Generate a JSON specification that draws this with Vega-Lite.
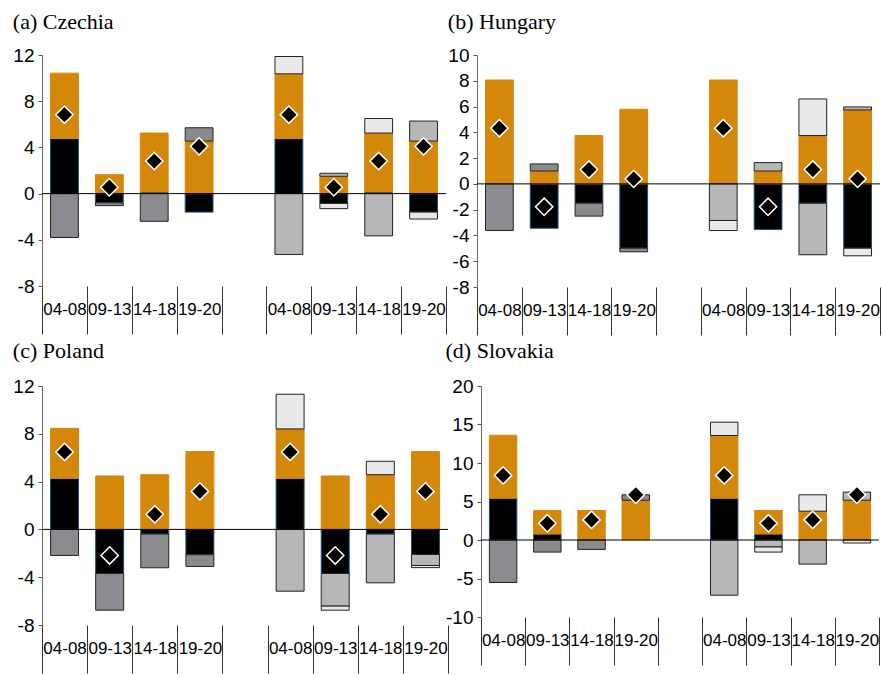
{
  "$schema": "https://vega.github.io/schema/vega-lite/v6.json",
  "padding": {"left": 12, "top": 11, "right": 0, "bottom": 0},
  "background": "white",
  "datasets": {
    "bars": [
      {"p": "a", "pos": "04-08|1", "c": "c1", "v": 4.76},
      {"p": "a", "pos": "04-08|1", "c": "c2", "v": 5.67},
      {"p": "a", "pos": "04-08|1", "c": "c3", "v": -3.8},
      {"p": "a", "pos": "09-13|1", "c": "c1", "v": -0.8},
      {"p": "a", "pos": "09-13|1", "c": "c2", "v": 1.64},
      {"p": "a", "pos": "09-13|1", "c": "c3", "v": -0.24},
      {"p": "a", "pos": "14-18|1", "c": "c1", "v": 0.14},
      {"p": "a", "pos": "14-18|1", "c": "c2", "v": 5.1},
      {"p": "a", "pos": "14-18|1", "c": "c3", "v": -2.4},
      {"p": "a", "pos": "19-20|1", "c": "c1", "v": -1.6},
      {"p": "a", "pos": "19-20|1", "c": "c2", "v": 4.55},
      {"p": "a", "pos": "19-20|1", "c": "c3", "v": 1.15},
      {"p": "a", "pos": "04-08|2", "c": "c1", "v": 4.76},
      {"p": "a", "pos": "04-08|2", "c": "c2", "v": 5.61},
      {"p": "a", "pos": "04-08|2", "c": "c5", "v": 1.5},
      {"p": "a", "pos": "04-08|2", "c": "c4", "v": -5.27},
      {"p": "a", "pos": "09-13|2", "c": "c1", "v": -0.85},
      {"p": "a", "pos": "09-13|2", "c": "c2", "v": 1.5},
      {"p": "a", "pos": "09-13|2", "c": "c4", "v": 0.26},
      {"p": "a", "pos": "09-13|2", "c": "c5", "v": -0.45},
      {"p": "a", "pos": "14-18|2", "c": "c1", "v": 0.14},
      {"p": "a", "pos": "14-18|2", "c": "c2", "v": 5.1},
      {"p": "a", "pos": "14-18|2", "c": "c5", "v": 1.26},
      {"p": "a", "pos": "14-18|2", "c": "c4", "v": -3.66},
      {"p": "a", "pos": "19-20|2", "c": "c1", "v": -1.6},
      {"p": "a", "pos": "19-20|2", "c": "c2", "v": 4.55},
      {"p": "a", "pos": "19-20|2", "c": "c4", "v": 1.73},
      {"p": "a", "pos": "19-20|2", "c": "c5", "v": -0.6},

      {"p": "b", "pos": "04-08|1", "c": "c2", "v": 8.06},
      {"p": "b", "pos": "04-08|1", "c": "c3", "v": -3.62},
      {"p": "b", "pos": "09-13|1", "c": "c1", "v": -3.44},
      {"p": "b", "pos": "09-13|1", "c": "c2", "v": 1.0},
      {"p": "b", "pos": "09-13|1", "c": "c3", "v": 0.55},
      {"p": "b", "pos": "14-18|1", "c": "c1", "v": -1.5},
      {"p": "b", "pos": "14-18|1", "c": "c2", "v": 3.75},
      {"p": "b", "pos": "14-18|1", "c": "c3", "v": -1.0},
      {"p": "b", "pos": "19-20|1", "c": "c1", "v": -4.99},
      {"p": "b", "pos": "19-20|1", "c": "c2", "v": 5.79},
      {"p": "b", "pos": "19-20|1", "c": "c3", "v": -0.28},
      {"p": "b", "pos": "04-08|2", "c": "c2", "v": 8.06},
      {"p": "b", "pos": "04-08|2", "c": "c4", "v": -2.84},
      {"p": "b", "pos": "04-08|2", "c": "c5", "v": -0.78},
      {"p": "b", "pos": "09-13|2", "c": "c1", "v": -3.54},
      {"p": "b", "pos": "09-13|2", "c": "c2", "v": 1.0},
      {"p": "b", "pos": "09-13|2", "c": "c4", "v": 0.65},
      {"p": "b", "pos": "14-18|2", "c": "c1", "v": -1.5},
      {"p": "b", "pos": "14-18|2", "c": "c2", "v": 3.75},
      {"p": "b", "pos": "14-18|2", "c": "c5", "v": 2.84},
      {"p": "b", "pos": "14-18|2", "c": "c4", "v": -4.0},
      {"p": "b", "pos": "19-20|2", "c": "c1", "v": -4.99},
      {"p": "b", "pos": "19-20|2", "c": "c2", "v": 5.74},
      {"p": "b", "pos": "19-20|2", "c": "c4", "v": 0.23},
      {"p": "b", "pos": "19-20|2", "c": "c5", "v": -0.59},

      {"p": "c", "pos": "04-08|1", "c": "c1", "v": 4.27},
      {"p": "c", "pos": "04-08|1", "c": "c2", "v": 4.19},
      {"p": "c", "pos": "04-08|1", "c": "c3", "v": -2.18},
      {"p": "c", "pos": "09-13|1", "c": "c1", "v": -3.69},
      {"p": "c", "pos": "09-13|1", "c": "c2", "v": 4.47},
      {"p": "c", "pos": "09-13|1", "c": "c3", "v": -3.07},
      {"p": "c", "pos": "14-18|1", "c": "c1", "v": -0.39},
      {"p": "c", "pos": "14-18|1", "c": "c2", "v": 4.58},
      {"p": "c", "pos": "14-18|1", "c": "c3", "v": -2.82},
      {"p": "c", "pos": "19-20|1", "c": "c1", "v": -2.12},
      {"p": "c", "pos": "19-20|1", "c": "c2", "v": 6.51},
      {"p": "c", "pos": "19-20|1", "c": "c3", "v": -0.98},
      {"p": "c", "pos": "04-08|2", "c": "c1", "v": 4.27},
      {"p": "c", "pos": "04-08|2", "c": "c2", "v": 4.14},
      {"p": "c", "pos": "04-08|2", "c": "c5", "v": 2.9},
      {"p": "c", "pos": "04-08|2", "c": "c4", "v": -5.17},
      {"p": "c", "pos": "09-13|2", "c": "c1", "v": -3.69},
      {"p": "c", "pos": "09-13|2", "c": "c2", "v": 4.47},
      {"p": "c", "pos": "09-13|2", "c": "c4", "v": -2.73},
      {"p": "c", "pos": "09-13|2", "c": "c5", "v": -0.34},
      {"p": "c", "pos": "14-18|2", "c": "c1", "v": -0.39},
      {"p": "c", "pos": "14-18|2", "c": "c2", "v": 4.58},
      {"p": "c", "pos": "14-18|2", "c": "c5", "v": 1.12},
      {"p": "c", "pos": "14-18|2", "c": "c4", "v": -4.08},
      {"p": "c", "pos": "19-20|2", "c": "c1", "v": -2.1},
      {"p": "c", "pos": "19-20|2", "c": "c2", "v": 6.51},
      {"p": "c", "pos": "19-20|2", "c": "c4", "v": -0.92},
      {"p": "c", "pos": "19-20|2", "c": "c5", "v": -0.18},

      {"p": "d", "pos": "04-08|1", "c": "c1", "v": 5.43},
      {"p": "d", "pos": "04-08|1", "c": "c2", "v": 8.17},
      {"p": "d", "pos": "04-08|1", "c": "c3", "v": -5.52},
      {"p": "d", "pos": "09-13|1", "c": "c1", "v": 0.78},
      {"p": "d", "pos": "09-13|1", "c": "c2", "v": 3.05},
      {"p": "d", "pos": "09-13|1", "c": "c3", "v": -1.57},
      {"p": "d", "pos": "14-18|1", "c": "c2", "v": 3.83},
      {"p": "d", "pos": "14-18|1", "c": "c3", "v": -1.22},
      {"p": "d", "pos": "19-20|1", "c": "c2", "v": 5.17},
      {"p": "d", "pos": "19-20|1", "c": "c3", "v": 0.7},
      {"p": "d", "pos": "04-08|2", "c": "c1", "v": 5.43},
      {"p": "d", "pos": "04-08|2", "c": "c2", "v": 8.14},
      {"p": "d", "pos": "04-08|2", "c": "c5", "v": 1.73},
      {"p": "d", "pos": "04-08|2", "c": "c4", "v": -7.17},
      {"p": "d", "pos": "09-13|2", "c": "c1", "v": 0.78},
      {"p": "d", "pos": "09-13|2", "c": "c2", "v": 3.05},
      {"p": "d", "pos": "09-13|2", "c": "c4", "v": -0.91},
      {"p": "d", "pos": "09-13|2", "c": "c5", "v": -0.66},
      {"p": "d", "pos": "14-18|2", "c": "c2", "v": 3.74},
      {"p": "d", "pos": "14-18|2", "c": "c5", "v": 2.13},
      {"p": "d", "pos": "14-18|2", "c": "c4", "v": -3.13},
      {"p": "d", "pos": "19-20|2", "c": "c2", "v": 5.17},
      {"p": "d", "pos": "19-20|2", "c": "c4", "v": 1.05},
      {"p": "d", "pos": "19-20|2", "c": "c5", "v": -0.39}
    ],
    "totals": [
      {"p": "a", "pos": "04-08|1", "t": 6.83}, {"p": "a", "pos": "09-13|1", "t": 0.55}, {"p": "a", "pos": "14-18|1", "t": 2.82}, {"p": "a", "pos": "19-20|1", "t": 4.09},
      {"p": "a", "pos": "04-08|2", "t": 6.83}, {"p": "a", "pos": "09-13|2", "t": 0.55}, {"p": "a", "pos": "14-18|2", "t": 2.82}, {"p": "a", "pos": "19-20|2", "t": 4.09},
      {"p": "b", "pos": "04-08|1", "t": 4.32}, {"p": "b", "pos": "09-13|1", "t": -1.78}, {"p": "b", "pos": "14-18|1", "t": 1.11}, {"p": "b", "pos": "19-20|1", "t": 0.39},
      {"p": "b", "pos": "04-08|2", "t": 4.32}, {"p": "b", "pos": "09-13|2", "t": -1.78}, {"p": "b", "pos": "14-18|2", "t": 1.11}, {"p": "b", "pos": "19-20|2", "t": 0.39},
      {"p": "c", "pos": "04-08|1", "t": 6.48}, {"p": "c", "pos": "09-13|1", "t": -2.18}, {"p": "c", "pos": "14-18|1", "t": 1.26}, {"p": "c", "pos": "19-20|1", "t": 3.18},
      {"p": "c", "pos": "04-08|2", "t": 6.48}, {"p": "c", "pos": "09-13|2", "t": -2.18}, {"p": "c", "pos": "14-18|2", "t": 1.26}, {"p": "c", "pos": "19-20|2", "t": 3.18},
      {"p": "d", "pos": "04-08|1", "t": 8.39}, {"p": "d", "pos": "09-13|1", "t": 2.17}, {"p": "d", "pos": "14-18|1", "t": 2.61}, {"p": "d", "pos": "19-20|1", "t": 5.87},
      {"p": "d", "pos": "04-08|2", "t": 8.39}, {"p": "d", "pos": "09-13|2", "t": 2.17}, {"p": "d", "pos": "14-18|2", "t": 2.61}, {"p": "d", "pos": "19-20|2", "t": 5.87}
    ]
  },
  "vconcat": [
    {
      "spacing": 0,
      "hconcat": [
        {
          "width": 404, "height": 231,
          "title": {"text": "(a) Czechia", "offset": 12},
          "layer": [
            {"data": {"name": "bars"}, "transform": [{"filter": "datum.p === 'a'"}],
             "mark": {"type": "bar", "width": {"band": 0.62}, "strokeWidth": 1},
             "encoding": {
               "x": {"field": "pos", "type": "nominal", "scale": {"domain": ["04-08|1","09-13|1","14-18|1","19-20|1","gap","04-08|2","09-13|2","14-18|2","19-20|2"], "paddingInner": 0, "paddingOuter": 0}},
               "y": {"field": "v", "type": "quantitative", "stack": "zero", "scale": {"domain": [-8, 12], "nice": false}, "axis": {"values": [-8, -4, 0, 4, 8, 12], "labelOverlap": false, "labelSeparation": -20}},
               "color": {"field": "c", "type": "nominal", "scale": {"domain": ["c1","c2","c3","c4","c5"], "range": ["#000000","#D4880A","#8B8B8F","#B7B7BA","#E9E9EB"]}, "legend": null},
               "stroke": {"field": "c", "type": "nominal", "scale": {"domain": ["c1","c2","c3","c4","c5"], "range": ["#1F4E79","#D4880A","#222222","#222222","#222222"]}, "legend": null},
               "order": {"field": "c", "sort": "ascending"}
             }},
            {"data": {"values": [{}]}, "mark": {"type": "rule", "color": "#000000", "strokeWidth": 1}, "encoding": {"y": {"datum": 0, "type": "quantitative", "axis": {"values": [-8, -4, 0, 4, 8, 12], "labelOverlap": false, "labelSeparation": -20}}}},
            {"data": {"name": "totals"}, "transform": [{"filter": "datum.p === 'a'"}],
             "mark": {"type": "point", "shape": "diamond", "filled": true, "size": 300, "fill": "#000000", "stroke": "#FFFFFF", "strokeWidth": 1.5, "opacity": 1},
             "encoding": {"x": {"field": "pos", "type": "nominal"}, "y": {"field": "t", "type": "quantitative", "axis": {"values": [-8, -4, 0, 4, 8, 12], "labelOverlap": false, "labelSeparation": -20}}}}
          ]
        },
        {
          "width": 403, "height": 232,
          "title": {"text": "(b) Hungary", "offset": 12},
          "layer": [
            {"data": {"name": "bars"}, "transform": [{"filter": "datum.p === 'b'"}],
             "mark": {"type": "bar", "width": {"band": 0.62}, "strokeWidth": 1},
             "encoding": {
               "x": {"field": "pos", "type": "nominal", "scale": {"domain": ["04-08|1","09-13|1","14-18|1","19-20|1","gap","04-08|2","09-13|2","14-18|2","19-20|2"], "paddingInner": 0, "paddingOuter": 0}},
               "y": {"field": "v", "type": "quantitative", "stack": "zero", "scale": {"domain": [-8, 10], "nice": false}, "axis": {"values": [-8, -6, -4, -2, 0, 2, 4, 6, 8, 10], "labelOverlap": false, "labelSeparation": -20}},
               "color": {"field": "c", "type": "nominal", "scale": {"domain": ["c1","c2","c3","c4","c5"], "range": ["#000000","#D4880A","#8B8B8F","#B7B7BA","#E9E9EB"]}, "legend": null},
               "stroke": {"field": "c", "type": "nominal", "scale": {"domain": ["c1","c2","c3","c4","c5"], "range": ["#1F4E79","#D4880A","#222222","#222222","#222222"]}, "legend": null},
               "order": {"field": "c", "sort": "ascending"}
             }},
            {"data": {"values": [{}]}, "mark": {"type": "rule", "color": "#000000", "strokeWidth": 1}, "encoding": {"y": {"datum": 0, "type": "quantitative", "axis": {"values": [-8, -6, -4, -2, 0, 2, 4, 6, 8, 10], "labelOverlap": false, "labelSeparation": -20}}}},
            {"data": {"name": "totals"}, "transform": [{"filter": "datum.p === 'b'"}],
             "mark": {"type": "point", "shape": "diamond", "filled": true, "size": 300, "fill": "#000000", "stroke": "#FFFFFF", "strokeWidth": 1.5, "opacity": 1},
             "encoding": {"x": {"field": "pos", "type": "nominal"}, "y": {"field": "t", "type": "quantitative", "axis": {"values": [-8, -6, -4, -2, 0, 2, 4, 6, 8, 10], "labelOverlap": false, "labelSeparation": -20}}}}
          ]
        }
      ]
    },
    {
      "spacing": -4,
      "hconcat": [
        {
          "width": 406, "height": 239,
          "title": {"text": "(c) Poland", "offset": 14},
          "layer": [
            {"data": {"name": "bars"}, "transform": [{"filter": "datum.p === 'c'"}],
             "mark": {"type": "bar", "width": {"band": 0.62}, "strokeWidth": 1},
             "encoding": {
               "x": {"field": "pos", "type": "nominal", "scale": {"domain": ["04-08|1","09-13|1","14-18|1","19-20|1","gap","04-08|2","09-13|2","14-18|2","19-20|2"], "paddingInner": 0, "paddingOuter": 0}},
               "y": {"field": "v", "type": "quantitative", "stack": "zero", "scale": {"domain": [-8, 12], "nice": false}, "axis": {"values": [-8, -4, 0, 4, 8, 12], "labelOverlap": false, "labelSeparation": -20}},
               "color": {"field": "c", "type": "nominal", "scale": {"domain": ["c1","c2","c3","c4","c5"], "range": ["#000000","#D4880A","#8B8B8F","#B7B7BA","#E9E9EB"]}, "legend": null},
               "stroke": {"field": "c", "type": "nominal", "scale": {"domain": ["c1","c2","c3","c4","c5"], "range": ["#1F4E79","#D4880A","#222222","#222222","#222222"]}, "legend": null},
               "order": {"field": "c", "sort": "ascending"}
             }},
            {"data": {"values": [{}]}, "mark": {"type": "rule", "color": "#000000", "strokeWidth": 1}, "encoding": {"y": {"datum": 0, "type": "quantitative", "axis": {"values": [-8, -4, 0, 4, 8, 12], "labelOverlap": false, "labelSeparation": -20}}}},
            {"data": {"name": "totals"}, "transform": [{"filter": "datum.p === 'c'"}],
             "mark": {"type": "point", "shape": "diamond", "filled": true, "size": 300, "fill": "#000000", "stroke": "#FFFFFF", "strokeWidth": 1.5, "opacity": 1},
             "encoding": {"x": {"field": "pos", "type": "nominal"}, "y": {"field": "t", "type": "quantitative", "axis": {"values": [-8, -4, 0, 4, 8, 12], "labelOverlap": false, "labelSeparation": -20}}}}
          ]
        },
        {
          "width": 398, "height": 231,
          "title": {"text": "(d) Slovakia", "offset": 14},
          "layer": [
            {"data": {"name": "bars"}, "transform": [{"filter": "datum.p === 'd'"}],
             "mark": {"type": "bar", "width": {"band": 0.62}, "strokeWidth": 1},
             "encoding": {
               "x": {"field": "pos", "type": "nominal", "scale": {"domain": ["04-08|1","09-13|1","14-18|1","19-20|1","gap","04-08|2","09-13|2","14-18|2","19-20|2"], "paddingInner": 0, "paddingOuter": 0}},
               "y": {"field": "v", "type": "quantitative", "stack": "zero", "scale": {"domain": [-10, 20], "nice": false}, "axis": {"values": [-10, -5, 0, 5, 10, 15, 20], "labelOverlap": false, "labelSeparation": -20}},
               "color": {"field": "c", "type": "nominal", "scale": {"domain": ["c1","c2","c3","c4","c5"], "range": ["#000000","#D4880A","#8B8B8F","#B7B7BA","#E9E9EB"]}, "legend": null},
               "stroke": {"field": "c", "type": "nominal", "scale": {"domain": ["c1","c2","c3","c4","c5"], "range": ["#1F4E79","#D4880A","#222222","#222222","#222222"]}, "legend": null},
               "order": {"field": "c", "sort": "ascending"}
             }},
            {"data": {"values": [{}]}, "mark": {"type": "rule", "color": "#000000", "strokeWidth": 1}, "encoding": {"y": {"datum": 0, "type": "quantitative", "axis": {"values": [-10, -5, 0, 5, 10, 15, 20], "labelOverlap": false, "labelSeparation": -20}}}},
            {"data": {"name": "totals"}, "transform": [{"filter": "datum.p === 'd'"}],
             "mark": {"type": "point", "shape": "diamond", "filled": true, "size": 300, "fill": "#000000", "stroke": "#FFFFFF", "strokeWidth": 1.5, "opacity": 1},
             "encoding": {"x": {"field": "pos", "type": "nominal"}, "y": {"field": "t", "type": "quantitative", "axis": {"values": [-10, -5, 0, 5, 10, 15, 20], "labelOverlap": false, "labelSeparation": -20}}}}
          ]
        }
      ]
    }
  ],
  "spacing": 4,
  "config": {
    "view": {"stroke": null},
    "font": "Liberation Sans",
    "title": {"font": "Liberation Serif", "fontSize": 22, "fontWeight": "normal", "anchor": "start", "color": "#000000"},
    "axisX": {"title": null, "domain": false, "tickBand": "extent", "tickSize": 48, "tickColor": "#333333", "tickWidth": 1, "labelPadding": -33, "labelFontSize": 17, "labelFont": "Liberation Sans", "labelColor": "#000000", "labelAngle": 0, "labelOverlap": false, "labelBound": false, "labelFlush": false, "labelExpr": "isString(datum.value) && datum.value !== 'gap' ? substring(datum.value, 0, 5) : ''"},
    "axisY": {"title": null, "grid": false, "tickSize": 4, "tickColor": "#555555", "domainColor": "#666666", "labelFontSize": 19, "labelFont": "Liberation Sans", "labelColor": "#000000", "labelPadding": 4, "labelOverlap": false, "labelExpr": "datum.value < 0 ? '-' + abs(datum.value) : '' + datum.value"}
  }
}
